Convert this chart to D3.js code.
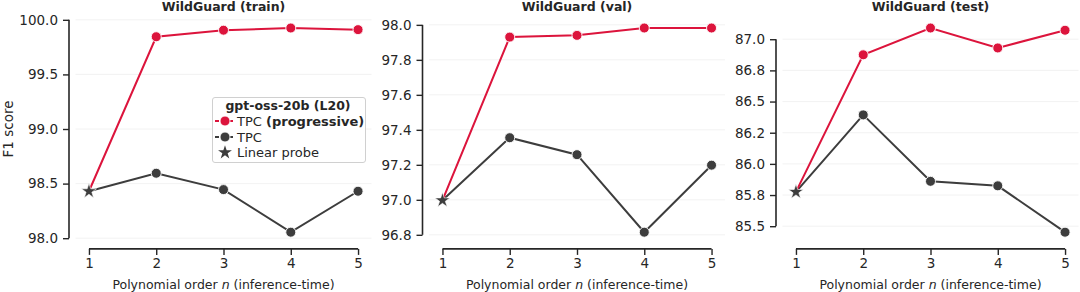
<!DOCTYPE html>
<html>
<head>
<meta charset="utf-8">
<script src="https://cdn.jsdelivr.net/npm/d3@7"></script>
<style>
  body { margin: 0; background: #fff; }
  svg { display: block; font-family: "DejaVu Sans", sans-serif; }
</style>
</head>
<body>
<div id="container"></div>
<script>
/* DATA */
var orders = [1, 2, 3, 4, 5];
var titles = ["WildGuard (train)", "WildGuard (val)", "WildGuard (test)"];

var trainProg = [98.43, 99.845, 99.905, 99.925, 99.91];
var trainTpc  = [98.43, 98.595, 98.445, 98.055, 98.43];
var valProg   = [96.997, 97.93, 97.94, 97.982, 97.982];
var valTpc    = [96.997, 97.355, 97.258, 96.815, 97.198];
var testProg  = [85.775, 86.875, 87.09, 86.93, 87.072];
var testTpc   = [85.775, 86.393, 85.86, 85.824, 85.452];

var trainTicks = [98.0, 98.5, 99.0, 99.5, 100.0];
var trainTickLabels = ["98.0", "98.5", "99.0", "99.5", "100.0"];
var valTicks = [96.8, 97.0, 97.2, 97.4, 97.6, 97.8, 98.0];
var valTickLabels = ["96.8", "97.0", "97.2", "97.4", "97.6", "97.8", "98.0"];
var testTicks = [85.5, 85.75, 86.0, 86.25, 86.5, 86.75, 87.0];
var testTickLabels = ["85.5", "85.8", "86.0", "86.2", "86.5", "86.8", "87.0"];

var panels = [
  { title: titles[0], prog: trainProg, tpc: trainTpc, ticks: trainTicks, labels: trainTickLabels },
  { title: titles[1], prog: valProg, tpc: valTpc, ticks: valTicks, labels: valTickLabels },
  { title: titles[2], prog: testProg, tpc: testTpc, ticks: testTicks, labels: testTickLabels }
];

/* CONSTANTS */
var width = 1080, height = 292;
var red = "#dc143c", grey = "#3d3d3d", ink = "#262626";
var lefts = [75.5, 429, 782.5],
    panelW = 296,
    plotTop = 17.8,
    plotBottom = 242.4,
    offset = 6.5;

var svg = d3.select('#container').append('svg')
  .attr('width', width)
  .attr('height', height);

panels.forEach(function(p, i) {
  var left = lefts[i];
  var xScale = d3.scaleLinear()
    .domain([0.8, 5.2])
    .range([left, left + panelW]);

  var all = p.prog.concat(p.tpc);
  var lo = d3.min(all), hi = d3.max(all), pad = (hi - lo) * 0.05;
  var yScale = d3.scaleLinear()
    .domain([lo - pad, hi + pad])
    .range([plotBottom, plotTop]);

  var g = svg.append('g');

  // faint grid
  g.selectAll('line.grid').data(p.ticks)
    .enter().append('line')
      .attr('x1', left).attr('x2', left + panelW)
      .attr('y1', function(d){ return yScale(d); })
      .attr('y2', function(d){ return yScale(d); })
      .attr('stroke', '#efefef')
      .attr('stroke-width', 0.8);

  // y axis (offset, trimmed)
  var yAxis = d3.axisLeft(yScale)
    .tickValues(p.ticks)
    .tickFormat(function(d, k){ return p.labels[k]; })
    .tickSize(6)
    .tickPadding(5);
  var ya = g.append('g')
    .attr('transform', 'translate(' + (left - offset) + ',0)')
    .call(yAxis);
  ya.select('.domain').remove();
  ya.append('line')
    .attr('y1', yScale(d3.min(p.ticks))).attr('y2', yScale(d3.max(p.ticks)))
    .attr('stroke', ink).attr('stroke-width', 1.6);
  ya.selectAll('.tick line').attr('stroke', ink).attr('stroke-width', 1.4);
  ya.selectAll('.tick text').attr('fill', ink).style('font-size', '13.5px')
    .style('font-family', '"DejaVu Sans", sans-serif');

  // x axis (offset, trimmed)
  var xAxis = d3.axisBottom(xScale)
    .tickValues(orders)
    .tickFormat(d3.format('d'))
    .tickSize(6)
    .tickPadding(4);
  var xa = g.append('g')
    .attr('transform', 'translate(0,' + (plotBottom + offset) + ')')
    .call(xAxis);
  xa.select('.domain').remove();
  xa.append('line')
    .attr('x1', xScale(1)).attr('x2', xScale(5))
    .attr('stroke', ink).attr('stroke-width', 1.6);
  xa.selectAll('.tick line').attr('stroke', ink).attr('stroke-width', 1.4);
  xa.selectAll('.tick text').attr('fill', ink).style('font-size', '13.5px')
    .style('font-family', '"DejaVu Sans", sans-serif');

  // x label
  var xl = g.append('text')
    .attr('x', (xScale(1) + xScale(5)) / 2)
    .attr('y', 289)
    .attr('text-anchor', 'middle')
    .attr('fill', ink)
    .style('font-size', '12.5px');
  xl.append('tspan').text('Polynomial order ');
  xl.append('tspan').style('font-style', 'italic').text('n');
  xl.append('tspan').text(' (inference-time)');

  // title
  g.append('text')
    .attr('x', left + panelW / 2)
    .attr('y', 11)
    .attr('text-anchor', 'middle')
    .attr('fill', ink)
    .style('font-size', '12.5px')
    .style('font-weight', 'bold')
    .text(p.title);

  var line = d3.line()
    .x(function(d, k){ return xScale(orders[k]); })
    .y(function(d){ return yScale(d); });

  // series: TPC then progressive
  [[p.tpc, grey], [p.prog, red]].forEach(function(s) {
    g.append('path')
      .datum(s[0])
      .attr('d', line)
      .attr('fill', 'none')
      .attr('stroke', s[1])
      .attr('stroke-width', 2);
    g.selectAll(null).data(s[0].slice(1))
      .enter().append('circle')
        .attr('cx', function(d, k){ return xScale(orders[k + 1]); })
        .attr('cy', function(d){ return yScale(d); })
        .attr('r', 5)
        .attr('fill', s[1])
        .attr('stroke', '#fff')
        .attr('stroke-width', 0.9);
  });

  // linear probe star at n = 1
  g.append('path')
    .attr('d', d3.symbol().type(d3.symbolStar).size(70)())
    .attr('transform', 'translate(' + xScale(1) + ',' + yScale(p.tpc[0]) + ')')
    .attr('fill', grey)
    .attr('stroke', '#fff')
    .attr('stroke-width', 0.6);
});

// y label
svg.append('text')
  .attr('transform', 'translate(13,129) rotate(-90)')
  .attr('text-anchor', 'middle')
  .attr('fill', ink)
  .style('font-size', '13.5px')
  .text('F1 score');

// legend
var lg = svg.append('g');
lg.append('rect')
  .attr('x', 212.5).attr('y', 97.5)
  .attr('width', 153).attr('height', 65)
  .attr('rx', 2.5)
  .attr('fill', 'rgba(255,255,255,0.85)')
  .attr('stroke', '#d0d0d0')
  .attr('stroke-width', 1);
lg.append('text')
  .attr('x', 288).attr('y', 110)
  .attr('text-anchor', 'middle')
  .attr('fill', ink)
  .style('font-size', '12.5px')
  .style('font-weight', 'bold')
  .text('gpt-oss-20b (L20)');

var rows = [
  { color: red, y: 121, marker: 'circle' },
  { color: grey, y: 137, marker: 'circle' },
  { color: grey, y: 152.5, marker: 'star' }
];
rows.forEach(function(r, k) {
  if (r.marker === 'circle') {
    lg.append('line')
      .attr('x1', 215).attr('x2', 235)
      .attr('y1', r.y).attr('y2', r.y)
      .attr('stroke', r.color).attr('stroke-width', 2)
      .attr('stroke-dasharray', '4,3');
    lg.append('circle')
      .attr('cx', 225).attr('cy', r.y).attr('r', 5)
      .attr('fill', r.color).attr('stroke', '#fff').attr('stroke-width', 0.9);
  } else {
    lg.append('path')
      .attr('d', d3.symbol().type(d3.symbolStar).size(60)())
      .attr('transform', 'translate(225,' + r.y + ')')
      .attr('fill', r.color);
  }
  var t = lg.append('text')
    .attr('x', 237).attr('y', r.y + 4.5)
    .attr('fill', ink)
    .style('font-size', '13px');
  if (k === 0) {
    t.append('tspan').text('TPC ');
    t.append('tspan').style('font-weight', 'bold').text('(progressive)');
  } else if (k === 1) {
    t.text('TPC');
  } else {
    t.text('Linear probe');
  }
});
</script>
</body>
</html>
